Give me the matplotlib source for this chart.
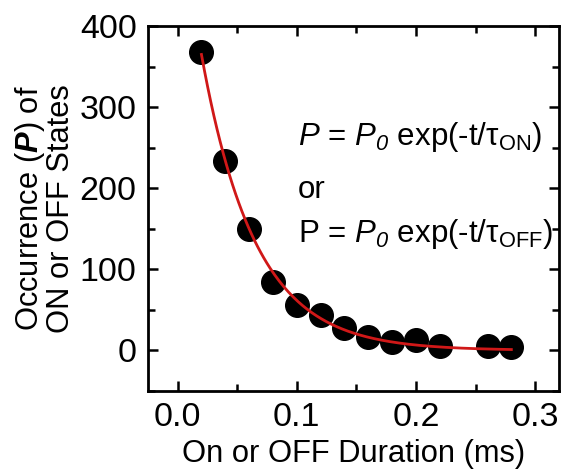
import numpy as np
from matplotlib import pyplot as plt

plt.rcParams['font.family'] = ['Liberation Sans', 'DejaVu Sans']
plt.rcParams['mathtext.fontset'] = 'custom'
plt.rcParams['mathtext.rm'] = 'Liberation Sans'
plt.rcParams['mathtext.it'] = 'Liberation Sans:italic'
plt.rcParams['mathtext.sf'] = 'Liberation Sans:italic'
plt.rcParams['mathtext.bf'] = 'Liberation Sans:bold'
plt.rcParams['mathtext.bfit'] = 'Liberation Sans:italic:bold'

duration = [0.02, 0.04, 0.06, 0.08, 0.10, 0.12, 0.14, 0.16, 0.18, 0.20, 0.22, 0.26, 0.28]
occurrence = [368, 233, 150, 84, 56, 44, 28, 16, 11, 13, 6, 6, 4]

# exponential fit parameters
P0 = 569.0
tau = 0.045

fig = plt.figure(figsize=(5.62, 4.72), dpi=100)
ax = fig.add_axes([0.263, 0.1716, 0.7317, 0.7734])

t = np.linspace(duration[0], duration[-1], 200)
ax.plot(duration, occurrence, 'o', color='black', markersize=17, zorder=2)
ax.plot(t, P0*np.exp(-t/tau), color='#d01818', lw=2.0, zorder=3)

ax.set_xlim(-0.025, 0.32)
ax.set_ylim(-50, 400)
ax.set_xticks([0.0, 0.1, 0.2, 0.3])
ax.set_xticks([0.05, 0.15, 0.25], minor=True)
ax.set_yticks([0, 100, 200, 300, 400])
ax.set_yticks([-50, 50, 150, 250, 350], minor=True)
ax.tick_params(which='both', direction='in', top=True, right=True, width=1.8,
               labelsize=24.5, pad=8)
ax.tick_params(which='major', length=7)
ax.tick_params(which='minor', length=5)
for s in ax.spines.values():
    s.set_linewidth(2.0)

ax.set_xlabel('On or OFF Duration (ms)', fontsize=22.2, labelpad=4)
ax.set_ylabel('Occurrence ($\\boldsymbol{P}$) of\nON or OFF States', fontsize=22.2,
              labelpad=3, linespacing=0.95)

ax.text(0.101, 263, '$P$ = $P_{\\mathsf{0}}$ exp(-t/τ$_{\\rm ON}$)', fontsize=22.5, va='center')
ax.text(0.101, 198, 'or', fontsize=22.5, va='center')
ax.text(0.101, 144, 'P = $P_{\\mathsf{0}}$ exp(-t/τ$_{\\rm OFF}$)', fontsize=22.5, va='center')

fig.savefig('out.png', dpi=100)
